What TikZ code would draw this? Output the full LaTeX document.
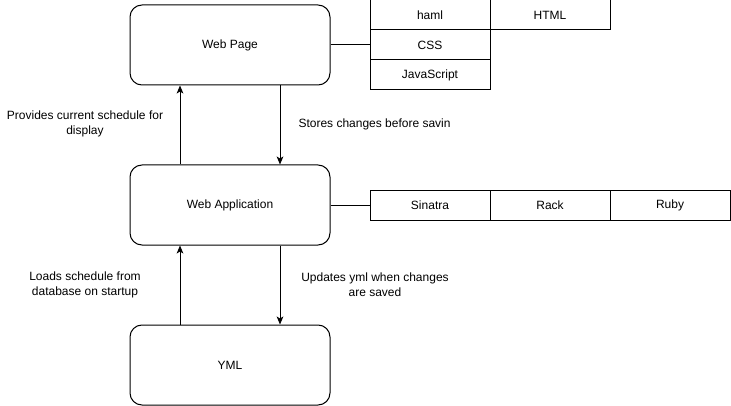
\documentclass[tikz,border=0pt]{standalone}
\usepackage{fontspec}
\setmainfont{Liberation Sans}
\usetikzlibrary{arrows.meta}

\begin{document}
\begin{tikzpicture}[x=0.75pt,y=-0.75pt,line width=0.75pt,
	font=\fontsize{9}{11}\selectfont,
	block/.style={draw,rounded corners=9pt,minimum width=150pt,minimum height=60pt,inner sep=0pt},
	cell/.style={draw,minimum width=90pt,minimum height=22.5pt,inner sep=0pt},
	flow/.style={-{Stealth[length=6pt,width=5pt,inset=1.5pt]}},
	note/.style={align=center,inner sep=0pt}]
\useasboundingbox (0,0) rectangle (731,406);

\node[block] (page) at (230,45) {Web Page};
\node[block] (app) at (230,205) {Web Application};
\node[block] (yml) at (230,365) {YML};

\foreach \n/\t/\x/\y in {haml/haml/430/15, html/HTML/550/15, css/CSS/430/45, js/JavaScript/430/75}{
	\node[cell] (\n) at (\x,\y) {\t};
}
\foreach \n/\t/\x in {sinatra/Sinatra/430, rack/Rack/550, ruby/Ruby/670}{
	\node[cell] (\n) at (\x,205) {\t};
}

\draw (page.east) -- (css.west);
\draw (app.east) -- (sinatra.west);

\draw[flow] ([xshift=-37.5pt]app.north) -- ([xshift=-37.5pt]page.south);
\draw[flow] ([xshift=37.5pt]page.south) -- ([xshift=37.5pt]app.north);
\draw[flow] ([xshift=-37.5pt]yml.north) -- ([xshift=-37.5pt]app.south);
\draw[flow] ([xshift=37.5pt]app.south) -- ([xshift=37.5pt]yml.north);

\node[note] (provides) at (85,124) {Provides current schedule for\\display};
\node[note,anchor=west] (stores) at (298,124) {Stores changes before savin};
\node[note] (loads) at (85,285) {Loads schedule from\\database on startup};
\node[note] (updates) at (375,285) {Updates yml when changes\\are saved};
\end{tikzpicture}
\end{document}
